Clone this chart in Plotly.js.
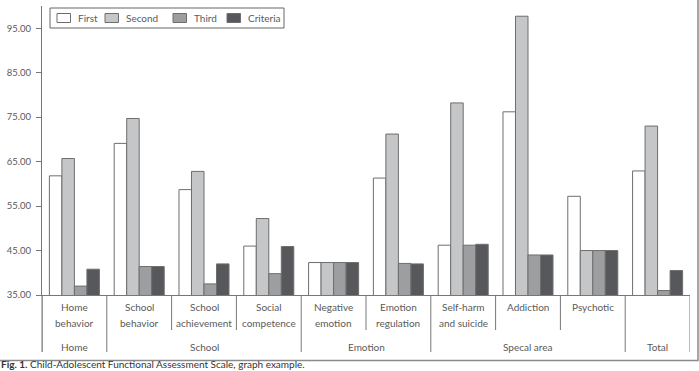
<!DOCTYPE html>
<html>
<head>
<meta charset="utf-8">
<script src="https://cdn.plot.ly/plotly-3.0.1.min.js"></script>
<style>html,body{margin:0;padding:0;background:#fff;}#chart{width:699px;height:371px;}</style>
</head>
<body>
<div id="chart"></div>
<script>
// ---- data ----
const categories = ["Home behavior","School behavior","School achievement","Social competence","Negative emotion","Emotion regulation","Self-harm and suicide","Addiction","Psychotic","Total"];
const labelLine1 = ["Home","School","School","Social","Negative","Emotion","Self-harm","Addiction","Psychotic",""];
const labelLine2 = ["behavior","behavior","achievement","competence","emotion","regulation","and suicide","","",""];
const groupOf = ["Home","School","School","School","Emotion","Emotion","Specal area","Specal area","Specal area","Total"];
const seriesNames = ["First","Second","Third","Criteria"];
const first    = [61.8, 69.1, 58.7, 46.0, 42.3, 61.3, 46.2, 76.2, 57.2, 62.9];
const second   = [65.7, 74.7, 62.8, 52.2, 42.3, 71.2, 78.2, 97.7, 45.0, 73.0];
const third    = [37.0, 41.4, 37.5, 39.8, 42.3, 42.1, 46.2, 44.0, 45.0, 36.0];
const criteria = [40.8, 41.4, 42.0, 45.9, 42.3, 42.0, 46.4, 44.0, 45.0, 40.5];
const yTicks = [35, 45, 55, 65, 75, 85, 95];
const caption = "<b>Fig. 1.</b> Child-Adolescent Functional Assessment Scale, graph example.";

// ---- styles ----
const fills = ["#ffffff", "#c5c6c7", "#9d9e9f", "#56585c"];
const outline = "#6e6e6e";
const txt = "#5a5a5a";
const FONT = "Lato, 'Open Sans', sans-serif";

const seriesVals = [first, second, third, criteria];
const traces = seriesVals.map((v, i) => ({
  type: "bar", name: seriesNames[i], x: categories, y: v,
  marker: {color: fills[i], line: {color: outline, width: 1}},
  hoverinfo: "skip", showlegend: false
}));

// pixel helpers for paper coordinates
const M = {l: 42, r: 9, t: 6, b: 76};
const W = 699, H = 371;
const pw = W - M.l - M.r, ph = H - M.t - M.b;
const py = p => (H - M.b - p) / ph;     // pixel row -> paper y
const px = p => (p - M.l) / pw;         // pixel col -> paper x

const shapes = [];
const annotations = [];
// separators at category boundaries
for (let b = 0; b <= categories.length; b++) {
  const left = groupOf[b - 1], right = groupOf[b];
  const major = (left === undefined || right === undefined || left !== right);
  shapes.push({type: "line", xref: "x", yref: "paper", x0: b - 0.5, x1: b - 0.5,
    y0: 0, y1: major ? py(352) : py(330), line: {color: "#777", width: 1}});
}
// y-axis line continues down the label table
shapes.push({type: "line", xref: "paper", yref: "paper", x0: 0, x1: 0, y0: 0, y1: py(352), line: {color: "#777", width: 1}});
// child labels
categories.forEach((c, i) => {
  if (labelLine1[i]) annotations.push({xref: "x", yref: "paper", x: i, y: py(307), text: labelLine1[i],
    showarrow: false, yanchor: "middle", font: {family: FONT, size: 10, color: txt}});
  if (labelLine2[i]) annotations.push({xref: "x", yref: "paper", x: i, y: py(323), text: labelLine2[i],
    showarrow: false, yanchor: "middle", font: {family: FONT, size: 10, color: txt}});
});
// group labels
const groupNames = [...new Set(groupOf)];
groupNames.forEach(g => {
  const idx = groupOf.map((v, i) => v === g ? i : -1).filter(i => i >= 0);
  const mid = (idx[0] + idx[idx.length - 1]) / 2;
  annotations.push({xref: "x", yref: "paper", x: mid, y: py(346.5), text: g, showarrow: false,
    yanchor: "middle", font: {family: FONT, size: 10, color: txt}});
});
// legend (box, swatches, labels)
const legendSwatchX = [57, 105, 173, 227];
shapes.push({type: "rect", xref: "paper", yref: "paper", x0: px(50), x1: px(284), y0: py(28), y1: py(8),
  line: {color: "#666", width: 1}, fillcolor: "#fff"});
seriesNames.forEach((n, i) => {
  const sx = legendSwatchX[i];
  shapes.push({type: "rect", xref: "paper", yref: "paper", x0: px(sx), x1: px(sx + 13.5), y0: py(22.5), y1: py(13.5),
    line: {color: outline, width: 1}, fillcolor: fills[i]});
  annotations.push({xref: "paper", yref: "paper", x: px(sx + 19), y: py(17.5), xanchor: "left", yanchor: "middle",
    text: n, showarrow: false, font: {family: FONT, size: 10, color: txt}});
});
// outer frame
shapes.push({type: "rect", xref: "paper", yref: "paper", x0: px(-20), x1: px(698), y0: py(360.5), y1: py(-20),
  line: {color: "#8a8a8a", width: 1.5}, fillcolor: "rgba(0,0,0,0)"});
// caption
annotations.push({xref: "paper", yref: "paper", x: px(0), y: py(371), xanchor: "left", yanchor: "bottom",
  text: caption, showarrow: false, borderpad: 0,
  font: {family: FONT, size: 10, color: "#333"}});

const layout = {
  width: W, height: H, margin: M,
  paper_bgcolor: "#fff", plot_bgcolor: "#fff",
  barmode: "group", bargap: 0.228, bargroupgap: 0,
  font: {family: FONT, size: 10, color: txt},
  xaxis: {type: "category", range: [-0.5, categories.length - 0.5], showticklabels: false, ticks: "",
    showline: true, linecolor: "#777", linewidth: 1, showgrid: false, zeroline: false, fixedrange: true},
  yaxis: {range: [35, 100], tickvals: yTicks, tickformat: ".2f", ticks: "outside", ticklen: 5, tickcolor: "#777",
    ticklabelstandoff: 3,
    showline: true, linecolor: "#777", linewidth: 1, showgrid: false, zeroline: false,
    tickfont: {family: FONT, size: 9.5, color: txt}, fixedrange: true},
  showlegend: false,
  shapes: shapes,
  annotations: annotations
};

Plotly.newPlot("chart", traces, layout, {displayModeBar: false, staticPlot: true});
</script>
</body>
</html>
